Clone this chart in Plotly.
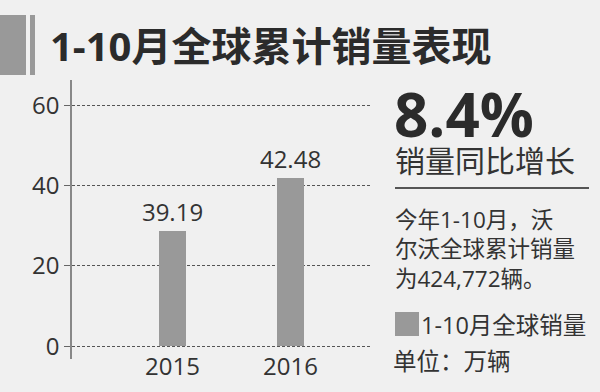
import plotly.graph_objects as go

# ---- data ----
years = [2015, 2016]
bar_values = [28.6, 41.9]          # bar heights as drawn
bar_labels = ["39.19", "42.48"]    # printed labels
year_labels = ["2015", "2016"]
y_ticks = [0, 20, 40, 60]
title_text = "1-10月全球累计销量表现"
growth_text = "8.4%"
growth_caption = "销量同比增长"
para_lines = ["今年1-10月，沃", "尔沃全球累计销量", "为424,772辆。"]
legend_text = "1-10月全球销量"
unit_text = "单位：万辆"

W, H = 600, 392
L, R, T, B = 72, 230, 80, 33
PW, PH = W - L - R, H - T - B
BG = "#f0f0f0"
BAR = "#999999"
TXT = "#333333"
LAT = "Open Sans, Noto Sans CJK SC, sans-serif"


def px(x):
    return (x - L) / PW


def py(y):
    return (H - B - y) / PH


fig = go.Figure()
fig.add_trace(go.Bar(
    x=years, y=bar_values, width=0.228, marker=dict(color=BAR, line=dict(width=0)),
    text=bar_labels, textposition="outside", cliponaxis=False, constraintext="none",
    textfont=dict(family=LAT, size=24, color=TXT),
))

fig.update_layout(
    width=W, height=H, margin=dict(l=L, r=R, t=T, b=B),
    paper_bgcolor=BG, plot_bgcolor=BG, showlegend=False,
    bargap=0, uniformtext=dict(mode=False),
    xaxis=dict(range=[2014.154, 2016.668], showgrid=False, zeroline=False,
               showticklabels=False, ticks="", fixedrange=True),
    yaxis=dict(range=[-3.2, 66.3], tickvals=y_ticks, showgrid=True,
               gridcolor="#555555", griddash="3px,2px", gridwidth=1,
               zeroline=False, showline=True, linecolor="#888888", linewidth=1.5,
               ticks="outside", ticklen=6, tickcolor="#666666",
               tickfont=dict(family=LAT, size=24, color=TXT)),
)

ann = []
# x category labels
for xv, lab in zip(years, year_labels):
    ann.append(dict(x=xv, y=py(365), xref="x", yref="paper", text=lab, showarrow=False,
                    xanchor="center", yanchor="middle",
                    font=dict(family=LAT, size=24, color=TXT)))
# title
ann.append(dict(x=px(48), y=py(46), xref="paper", yref="paper", text="<b>" + title_text + "</b>",
                showarrow=False, xanchor="left", yanchor="middle",
                font=dict(family=LAT, size=40, color="#2b2b2b")))
# growth
ann.append(dict(x=px(392), y=py(114), xref="paper", yref="paper", text="<b>" + growth_text + "</b>",
                showarrow=False, xanchor="left", yanchor="middle", height=50,
                font=dict(family=LAT, size=60, color="#2b2b2b")))
ann.append(dict(x=px(393), y=py(160), xref="paper", yref="paper", text=growth_caption,
                showarrow=False, xanchor="left", yanchor="middle", height=32,
                font=dict(family=LAT, size=30, color=TXT)))
# paragraph (one text block)
ann.append(dict(x=px(393), y=py(249), xref="paper", yref="paper", text="<br>".join(para_lines),
                showarrow=False, xanchor="left", yanchor="middle", align="left",
                font=dict(family=LAT, size=22.5, color=TXT)))
ann.append(dict(x=px(419), y=py(324), xref="paper", yref="paper", text=legend_text,
                showarrow=False, xanchor="left", yanchor="middle", height=27,
                font=dict(family=LAT, size=23.5, color=TXT)))
ann.append(dict(x=px(391), y=py(360), xref="paper", yref="paper", text=unit_text,
                showarrow=False, xanchor="left", yanchor="middle", height=27,
                font=dict(family=LAT, size=23.5, color=TXT)))
fig.update_layout(annotations=ann)

shapes = [
    dict(type="rect", xref="paper", yref="paper", x0=px(0), x1=px(26), y0=py(75), y1=py(15),
         fillcolor="#999999", line=dict(width=0)),
    dict(type="rect", xref="paper", yref="paper", x0=px(30), x1=px(35), y0=py(75), y1=py(15),
         fillcolor="#999999", line=dict(width=0)),
    dict(type="line", xref="paper", yref="paper", x0=px(395), x1=px(589), y0=py(188), y1=py(188),
         line=dict(color="#222222", width=1.5)),
    dict(type="rect", xref="paper", yref="paper", x0=px(395), x1=px(419), y0=py(336), y1=py(312),
         fillcolor=BAR, line=dict(width=0)),
]
fig.update_layout(shapes=shapes)

fig.write_html("out.html")
